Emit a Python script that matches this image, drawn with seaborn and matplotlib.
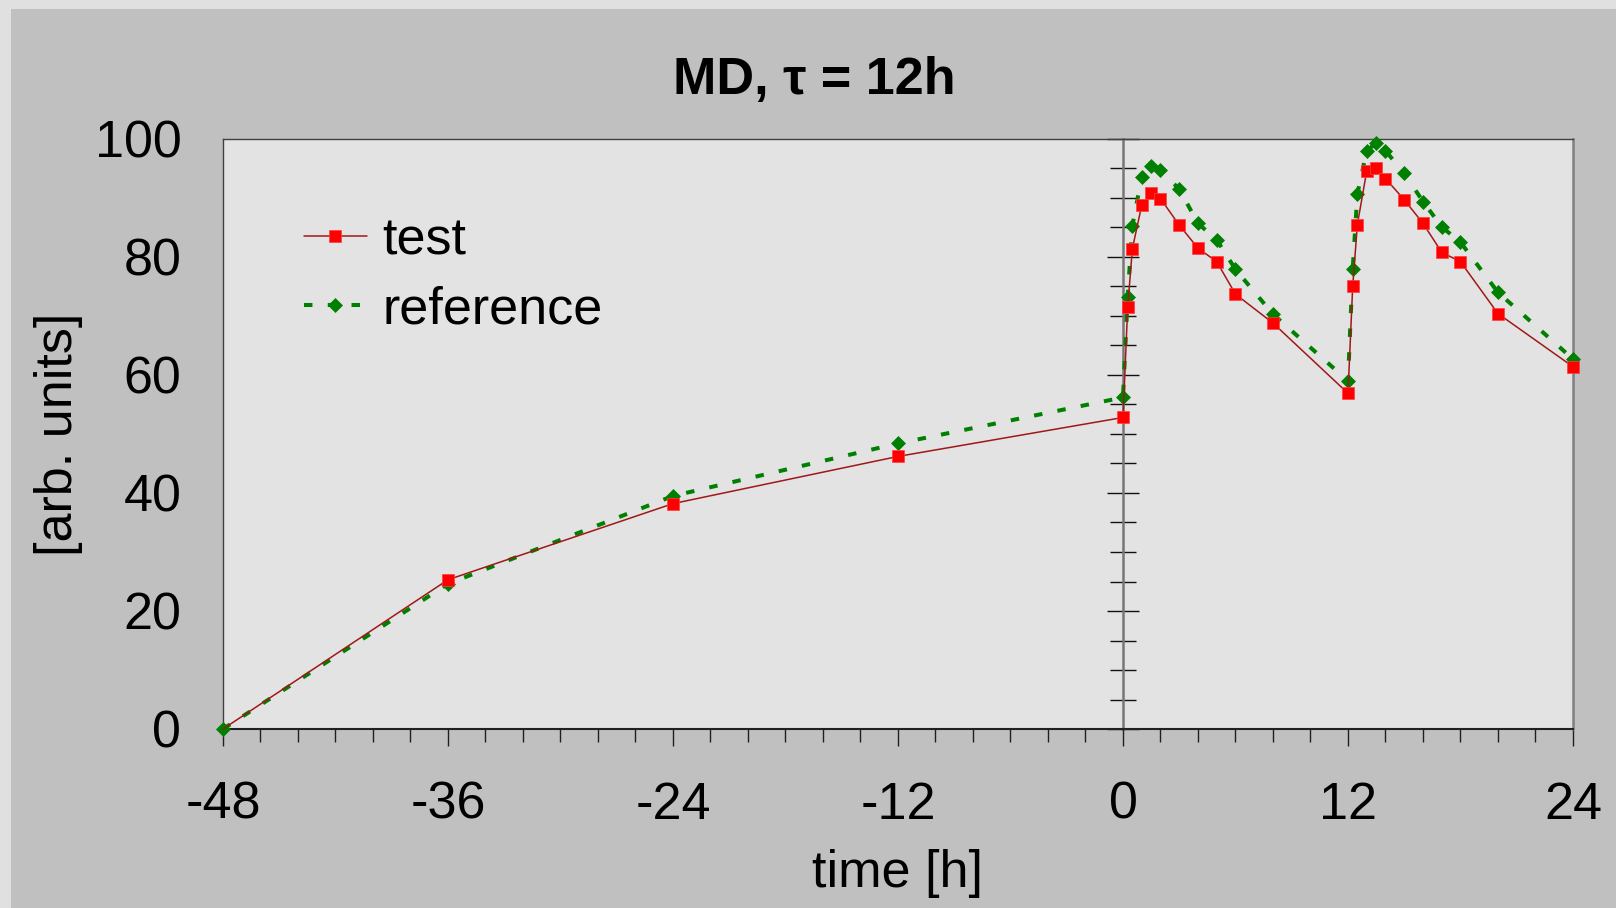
import numpy as np
import pandas as pd
import matplotlib
matplotlib.use("Agg")
import matplotlib.pyplot as plt
from matplotlib.ticker import MultipleLocator, FixedLocator
from matplotlib.patches import Rectangle
import seaborn as sns

# ---- data ----
time_h = [-48, -36, -24, -12, 0, 0.25, 0.5, 1, 1.5, 2, 3, 4, 5, 6, 8, 12,
          12.25, 12.5, 13, 13.5, 14, 15, 16, 17, 18, 20, 24]
test_vals = [0, 25.3, 38.2, 46.2, 52.8, 71.5, 81.4, 88.8, 90.8, 89.9, 85.4,
             81.5, 79.2, 73.7, 68.8, 56.9, 75.0, 85.5, 94.6, 95.1, 93.3,
             89.7, 85.7, 80.8, 79.2, 70.4, 61.4]
ref_vals = [0, 24.6, 39.5, 48.4, 56.2, 73.3, 85.3, 93.6, 95.4, 94.7, 91.5,
            85.7, 82.9, 77.9, 70.3, 59.0, 77.9, 90.7, 98.0, 99.3, 98.0,
            94.2, 89.4, 85.1, 82.5, 74.0, 62.7]
x_ticks = [-48, -36, -24, -12, 0, 12, 24]
y_ticks = [0, 20, 40, 60, 80, 100]
title_text = "MD, τ = 12h"
x_label = "time [h]"
y_label = "[arb. units]"
series_names = ["test", "reference"]

sns.set_theme(style="white")
plt.rcParams['font.family'] = ['Liberation Sans', 'DejaVu Sans']
plt.rcParams['text.color'] = 'black'
plt.rcParams['axes.labelcolor'] = 'black'
plt.rcParams['xtick.color'] = 'black'
plt.rcParams['ytick.color'] = 'black'

DPI = 100
fig = plt.figure(figsize=(16.16, 9.08), dpi=DPI, facecolor="#e0e0e0")
fig.patches.append(Rectangle((11 / 1616, 0), 1, 1 - 9 / 908, transform=fig.transFigure,
                             facecolor="#c0c0c0", edgecolor="none", zorder=-10))

L, R, T, B = 223, 1573, 139, 729
ax = fig.add_axes([L / 1616, 1 - B / 908, (R - L) / 1616, (B - T) / 908])
ax.set_facecolor("#e3e3e3")

fs = 37.5
n = len(time_h)
sns.lineplot(x=time_h, y=test_vals, ax=ax, color="#a01818", linewidth=1.1,
             marker="s", markersize=8.7, markerfacecolor="#ff0000",
             markeredgecolor="#ff4040", markeredgewidth=0.5,
             markevery=list(range(1, n)), clip_on=False, zorder=5,
             label=series_names[0], sort=False)
sns.lineplot(x=time_h, y=ref_vals, ax=ax, color="#008000", linewidth=2.9,
             linestyle=(0, (2.1, 3.8)), marker="D", markersize=7.2,
             markerfacecolor="#008000", markeredgecolor="#008000",
             markeredgewidth=0.5, clip_on=False, zorder=4,
             label=series_names[1], sort=False)

ax.set_xlim(-48, 24)
ax.set_ylim(0, 100)
ax.xaxis.set_major_locator(FixedLocator(x_ticks))
ax.xaxis.set_minor_locator(MultipleLocator(2))
ax.yaxis.set_major_locator(FixedLocator(y_ticks))
ax.set_xticklabels([str(v) for v in x_ticks])
ax.set_yticklabels([str(v) for v in y_ticks])

ax.tick_params(axis="x", which="major", direction="out", length=12.3, width=1.0,
               color="#202020", pad=25, labelsize=fs, labelcolor="black", bottom=True)
ax.tick_params(axis="x", which="minor", direction="out", length=9, width=1.0,
               color="#202020", bottom=True)
ax.tick_params(axis="y", which="both", left=False, length=0, pad=30,
               labelsize=fs, labelcolor="black")

for side in ["left", "top"]:
    ax.spines[side].set_color("#404040")
    ax.spines[side].set_linewidth(1.0)
ax.spines["bottom"].set_color("#202020")
ax.spines["bottom"].set_linewidth(1.5)
ax.spines["right"].set_color("#808080")
ax.spines["right"].set_linewidth(1.8)

# vertical axis crossing at time 0
sec = ax.secondary_yaxis(48 / 72)
sec.spines["right"].set_color("#777777")
sec.spines["right"].set_linewidth(1.8)
sec.yaxis.set_major_locator(MultipleLocator(20))
sec.yaxis.set_minor_locator(MultipleLocator(5))
sec.tick_params(axis="y", which="major", direction="inout", length=23.5, width=1.0,
                color="#111111", labelright=False, labelleft=False)
sec.tick_params(axis="y", which="minor", direction="inout", length=18.2, width=1.0,
                color="#111111")
sec.set_yticklabels([])

ax.set_xlabel(x_label, fontsize=fs, labelpad=14, color="black")
ax.set_ylabel(y_label, fontsize=fs, labelpad=8, color="black")

fig.text(814 / 1616, 1 - 80 / 908, title_text, fontsize=fs, fontweight="bold",
         ha="center", va="center", color="black")

leg = ax.legend(loc="center left", bbox_to_anchor=(0.06, 0.769), frameon=False,
                fontsize=fs, handlelength=1.2, handletextpad=0.3, labelspacing=0.38,
                borderpad=0, borderaxespad=0)
for t in leg.get_texts():
    t.set_color("black")

fig.savefig("out.png", dpi=DPI, facecolor=fig.get_facecolor())
